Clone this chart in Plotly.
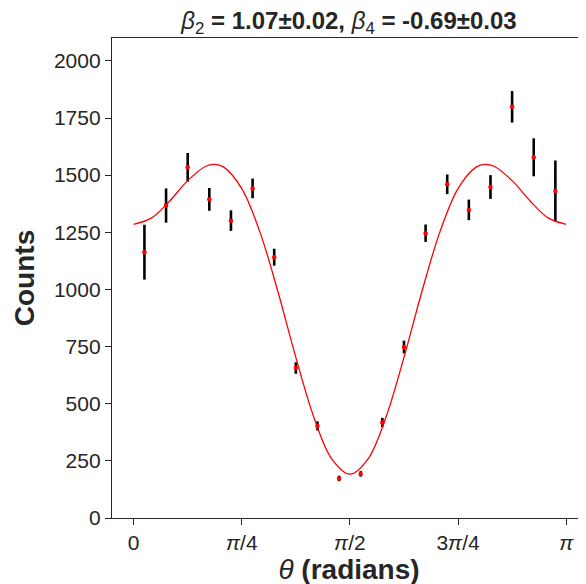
import numpy as np
import plotly.graph_objects as go

# measured angular distribution (bin centres in degrees)
theta_deg = [4.5, 13.5, 22.5, 31.5, 40.5, 49.5, 58.5, 67.5, 76.5, 85.5,
             94.5, 103.5, 112.5, 121.5, 130.5, 139.5, 148.5, 157.5, 166.5, 175.5]
counts = [1163, 1367, 1534, 1394, 1301, 1442, 1141, 656, 403, 173,
          193, 418, 748, 1246, 1460, 1348, 1448, 1799, 1578, 1431]
count_err = [120, 75, 63, 50, 45, 43, 37, 25, 20, 12,
             12, 20, 28, 38, 43, 45, 52, 69, 83, 133]

# fitted curve
fit_deg = [0, 7.5, 15, 22.5, 30, 33.75, 37.5, 45, 52.5, 60, 67.5, 75, 82.5, 90,
           97.5, 105, 112.5, 120, 127.5, 135, 142.5, 146.25, 150, 157.5, 165, 172.5, 180]
fit_counts = [1285, 1313, 1387, 1476, 1539, 1547, 1535, 1441, 1253, 992, 703, 441, 258, 192,
              258, 441, 703, 992, 1253, 1441, 1535, 1547, 1539, 1476, 1387, 1313, 1285]

tick_vals = [0, np.pi / 4, np.pi / 2, 3 * np.pi / 4, np.pi]
tick_text = ["0", "<i>π</i>/4", "<i>π</i>/2", "3<i>π</i>/4", "<i>π</i>"]

ink = "#262626"
font = "Liberation Sans, Arial, sans-serif"

fig = go.Figure()
fig.add_trace(go.Scatter(
    x=np.radians(theta_deg), y=counts, mode="markers",
    marker=dict(color="red", size=4.5),
    error_y=dict(type="data", array=count_err, color="black", thickness=2.6, width=0),
    showlegend=False))
fig.add_trace(go.Scatter(
    x=np.radians(fit_deg), y=fit_counts, mode="lines",
    line=dict(color="red", width=1.3, shape="spline"),
    showlegend=False))

# the page body has an 8px default margin, so the frame is shifted up/left by that much
fig.update_layout(
    width=586, height=584,
    margin=dict(l=104, r=8, t=30, b=74, autoexpand=False),
    plot_bgcolor="white", paper_bgcolor="white",
    font=dict(family=font, color=ink, size=21),
    title=dict(
        text="<i>β</i><sub>2</sub><b> = 1.07±0.02, </b><i>β</i><sub>4</sub><b> = -0.69±0.03</b>",
        x=0.5, xanchor="center", xref="paper",
        y=1, yanchor="bottom", yref="paper", pad=dict(b=9),
        font=dict(size=24, color=ink)),
)
fig.update_xaxes(
    range=[-np.pi / 20, np.pi + 0.144], automargin=False,
    tickvals=tick_vals, ticktext=tick_text,
    ticks="outside", ticklen=6, tickwidth=1.2, tickcolor=ink,
    showline=True, linecolor=ink, linewidth=1.3, mirror=True,
    showgrid=False, zeroline=False,
    tickfont=dict(size=21),
    title=dict(text="<i>θ</i><b> (radians)</b>", font=dict(size=28), standoff=2))
fig.update_yaxes(
    range=[0, 2100], dtick=250, automargin=False,
    ticks="outside", ticklen=6, tickwidth=1.2, tickcolor=ink,
    showline=True, linecolor=ink, linewidth=1.3,
    showgrid=False, zeroline=False,
    tickfont=dict(size=21),
    title=dict(text="<b>Counts</b>", font=dict(size=28), standoff=11))

fig.write_html("out.html")
